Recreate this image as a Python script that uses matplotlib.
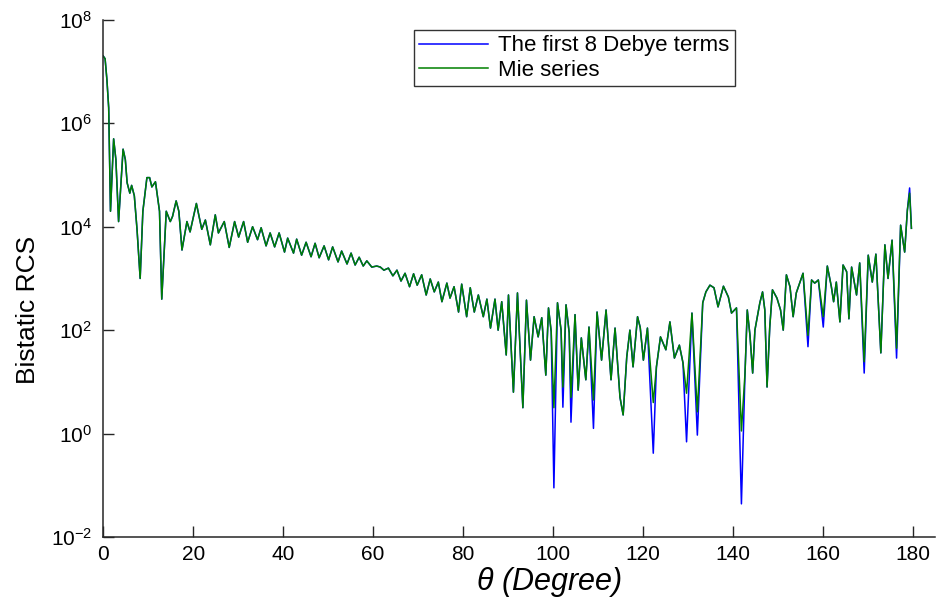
import numpy as np
import matplotlib
matplotlib.use("Agg")
import matplotlib.pyplot as plt
from matplotlib.ticker import LogLocator, NullLocator

plt.rcParams['font.family'] = ['Liberation Sans', 'DejaVu Sans']
plt.rcParams['mathtext.fontset'] = 'custom'
plt.rcParams['mathtext.rm'] = 'Liberation Sans'
plt.rcParams['mathtext.it'] = 'Liberation Sans:italic'

# scattering angle (degree)
theta = [0.0, 0.4, 0.8, 1.2, 1.6, 2.3, 2.8, 3.4, 4.4, 4.9,
         5.3, 5.9, 6.3, 6.9, 7.5, 8.2, 8.8, 9.7, 10.3, 10.8,
         11.6, 12.5, 13.0, 14.0, 14.9, 15.4, 16.2, 16.8, 17.5, 18.6,
         19.3, 20.7, 21.9, 22.7, 23.8, 24.9, 25.6, 26.9, 28.0, 29.2,
         30.1, 31.2, 32.1, 33.2, 34.3, 35.1, 36.2, 37.1, 38.1, 39.1,
         40.3, 41.0, 42.3, 43.0, 44.1, 45.1, 46.2, 47.1, 48.0, 49.1,
         50.1, 51.0, 52.2, 53.0, 54.2, 55.1, 56.0, 56.9, 57.8, 58.6,
         59.7, 60.8, 61.6, 62.4, 63.4, 64.4, 65.3, 66.2, 67.1, 68.1,
         69.0, 69.8, 70.8, 71.8, 72.7, 73.6, 74.5, 75.3, 76.4, 77.1,
         78.0, 79.0, 79.7, 80.8, 81.6, 82.5, 83.4, 84.5, 85.3, 86.1,
         87.1, 87.8, 88.6, 89.6, 90.1, 91.2, 92.1, 93.3, 94.1, 95.0,
         95.8, 96.7, 97.5, 98.4, 99.0, 99.6, 100.2, 101.0, 101.8, 102.2,
         102.9, 103.6, 104.0, 104.9, 105.6, 106.3, 107.3, 108.0, 109.0, 109.8,
         110.8, 111.8, 112.9, 113.8, 114.9, 115.6, 116.4, 117.1, 117.8, 118.8,
         119.4, 120.1, 121.0, 122.3, 123.0, 123.9, 125.1, 126.0, 127.0, 128.1,
         128.9, 129.7, 130.9, 132.1, 133.3, 134.0, 134.9, 135.8, 136.7, 137.9,
         139.0, 139.7, 140.8, 141.9, 142.7, 143.2, 143.8, 144.4, 144.9, 146.0,
         146.6, 147.1, 147.6, 148.2, 148.8, 149.8, 150.6, 151.2, 151.9, 152.7,
         153.4, 154.1, 155.6, 156.7, 157.5, 158.2, 159.0, 160.1, 161.0, 161.9,
         162.4, 163.0, 163.8, 164.5, 165.3, 165.8, 166.4, 167.5, 168.2, 169.2,
         170.1, 171.0, 171.8, 172.9, 173.8, 174.5, 175.4, 176.4, 177.3, 178.2,
         178.8, 179.3, 179.7]

# log10 of bistatic RCS, Mie series
mie_log = [7.30, 7.25, 6.85, 6.30, 4.30, 5.70, 5.30, 4.10, 5.50, 5.30,
           4.85, 4.65, 4.80, 4.60, 3.95, 3.00, 4.30, 4.95, 4.95, 4.77,
           4.87, 4.30, 2.60, 4.30, 4.10, 4.20, 4.50, 4.30, 3.55, 4.10,
           3.90, 4.45, 3.95, 4.13, 3.65, 4.23, 3.88, 4.10, 3.60, 4.10,
           3.80, 4.10, 3.70, 4.00, 3.75, 3.98, 3.63, 3.88, 3.61, 3.88,
           3.51, 3.78, 3.49, 3.76, 3.45, 3.70, 3.42, 3.68, 3.40, 3.63,
           3.36, 3.61, 3.32, 3.53, 3.28, 3.49, 3.26, 3.41, 3.24, 3.34,
           3.22, 3.24, 3.22, 3.16, 3.20, 3.05, 3.16, 2.95, 3.10, 2.84,
           3.09, 2.87, 3.07, 2.68, 2.99, 2.74, 2.93, 2.55, 2.91, 2.62,
           2.84, 2.35, 2.89, 2.26, 2.82, 2.35, 2.68, 2.26, 2.60, 2.04,
           2.60, 2.00, 2.55, 1.52, 2.68, 0.80, 2.72, 0.50, 2.58, 1.42,
           2.26, 1.87, 2.24, 1.13, 2.43, 1.97, 0.50, 2.53, 2.00, 0.90,
           2.49, 1.95, 0.70, 2.30, 0.84, 1.85, 1.04, 2.06, 0.65, 2.35,
           1.42, 2.39, 1.04, 2.04, 0.70, 0.36, 1.48, 2.00, 1.29, 2.26,
           2.05, 1.42, 2.04, 0.60, 1.29, 1.87, 1.62, 2.16, 1.46, 1.71,
           1.37, 0.78, 2.33, 0.42, 2.53, 2.74, 2.87, 2.82, 2.45, 2.85,
           2.64, 2.33, 2.43, 0.05, 1.17, 2.39, 1.90, 1.17, 2.00, 2.53,
           2.74, 2.39, 0.90, 2.06, 2.78, 2.62, 2.39, 2.00, 3.07, 2.84,
           2.26, 2.72, 3.10, 1.90, 2.97, 2.91, 2.97, 2.26, 3.24, 2.84,
           2.55, 2.93, 2.16, 3.26, 3.13, 2.22, 3.22, 2.68, 3.30, 1.39,
           3.45, 2.93, 3.47, 1.56, 3.65, 3.00, 3.74, 1.65, 4.03, 3.51,
           4.32, 4.65, 3.97]

# log10 of bistatic RCS, first 8 Debye terms (deeper at some nulls)
debye_log = [7.30, 7.25, 6.85, 6.30, 4.30, 5.70, 5.30, 4.10, 5.50, 5.30,
             4.85, 4.65, 4.80, 4.60, 3.95, 3.00, 4.30, 4.95, 4.95, 4.77,
             4.87, 4.30, 2.60, 4.30, 4.10, 4.20, 4.50, 4.30, 3.55, 4.10,
             3.90, 4.45, 3.95, 4.13, 3.65, 4.23, 3.88, 4.10, 3.60, 4.10,
             3.80, 4.10, 3.70, 4.00, 3.75, 3.98, 3.63, 3.88, 3.61, 3.88,
             3.51, 3.78, 3.49, 3.76, 3.45, 3.70, 3.42, 3.68, 3.40, 3.63,
             3.36, 3.61, 3.32, 3.53, 3.28, 3.49, 3.26, 3.41, 3.24, 3.34,
             3.22, 3.24, 3.22, 3.16, 3.20, 3.05, 3.16, 2.95, 3.10, 2.84,
             3.09, 2.87, 3.07, 2.68, 2.99, 2.74, 2.93, 2.55, 2.91, 2.62,
             2.84, 2.35, 2.89, 2.26, 2.82, 2.35, 2.68, 2.26, 2.60, 2.04,
             2.60, 2.00, 2.55, 1.52, 2.68, 0.80, 2.72, 0.50, 2.58, 1.42,
             2.26, 1.87, 2.24, 1.13, 2.43, 1.97, -1.05, 2.53, 2.00, 0.51,
             2.49, 1.95, 0.22, 2.30, 0.84, 1.85, 1.04, 2.06, 0.10, 2.35,
             1.42, 2.39, 1.04, 2.04, 0.70, 0.36, 1.48, 2.00, 1.29, 2.26,
             2.05, 1.42, 2.04, -0.38, 1.29, 1.87, 1.62, 2.16, 1.46, 1.71,
             1.37, -0.16, 2.33, -0.03, 2.53, 2.74, 2.87, 2.82, 2.45, 2.85,
             2.64, 2.33, 2.43, -1.36, 1.17, 2.39, 1.90, 1.17, 2.00, 2.53,
             2.74, 2.39, 0.90, 2.06, 2.78, 2.62, 2.39, 2.00, 3.07, 2.84,
             2.26, 2.72, 3.10, 1.68, 2.97, 2.91, 2.97, 2.06, 3.24, 2.84,
             2.55, 2.93, 2.16, 3.26, 3.13, 2.22, 3.22, 2.68, 3.30, 1.17,
             3.45, 2.93, 3.47, 1.56, 3.65, 3.00, 3.74, 1.46, 4.03, 3.51,
             4.32, 4.75, 3.97]

theta = np.array(theta)
mie = 10.0 ** np.array(mie_log)
debye = 10.0 ** np.array(debye_log)

fig = plt.figure(figsize=(9.39, 6.04), dpi=100)
ax = fig.add_axes([0.110, 0.111, 0.886, 0.856])

ax.semilogy(theta, debye, color='#0000ff', lw=1.1, label='The first 8 Debye terms')
ax.semilogy(theta, mie, color='#008000', lw=1.1, label='Mie series')

ax.set_xlim(0, 185)
ax.set_ylim(1e-2, 1e8)
ax.set_xticks(np.arange(0, 181, 20))
ax.yaxis.set_major_locator(LogLocator(base=100.0))
ax.yaxis.set_minor_locator(NullLocator())

for side in ['top', 'right']:
    ax.spines[side].set_visible(False)
for side in ['left', 'bottom']:
    ax.spines[side].set_linewidth(1.1)
    ax.spines[side].set_color('#262626')

ax.tick_params(axis='both', direction='in', length=8, width=1.0,
               labelsize=15, color='#262626')
ax.tick_params(axis='y', pad=8)
ax.tick_params(axis='x', pad=6)

ax.set_xlabel(r'$\theta$ (Degree)', fontsize=22, style='italic')
ax.xaxis.set_label_coords(0.535, -0.055, transform=ax.transAxes)
ax.xaxis.label.set_verticalalignment('top')
ax.set_ylabel('Bistatic RCS', fontsize=19)
ax.yaxis.set_label_coords(-0.076, 0.44, transform=ax.transAxes)

leg = ax.legend(loc='upper left', bbox_to_anchor=(0.373, 0.981), fontsize=16,
                frameon=True, fancybox=False, handlelength=3.1,
                borderpad=0.25, labelspacing=0.15, handletextpad=0.45,
                borderaxespad=0)
leg.get_frame().set_edgecolor('black')
leg.get_frame().set_linewidth(1.0)

fig.savefig('out.png', dpi=100)
